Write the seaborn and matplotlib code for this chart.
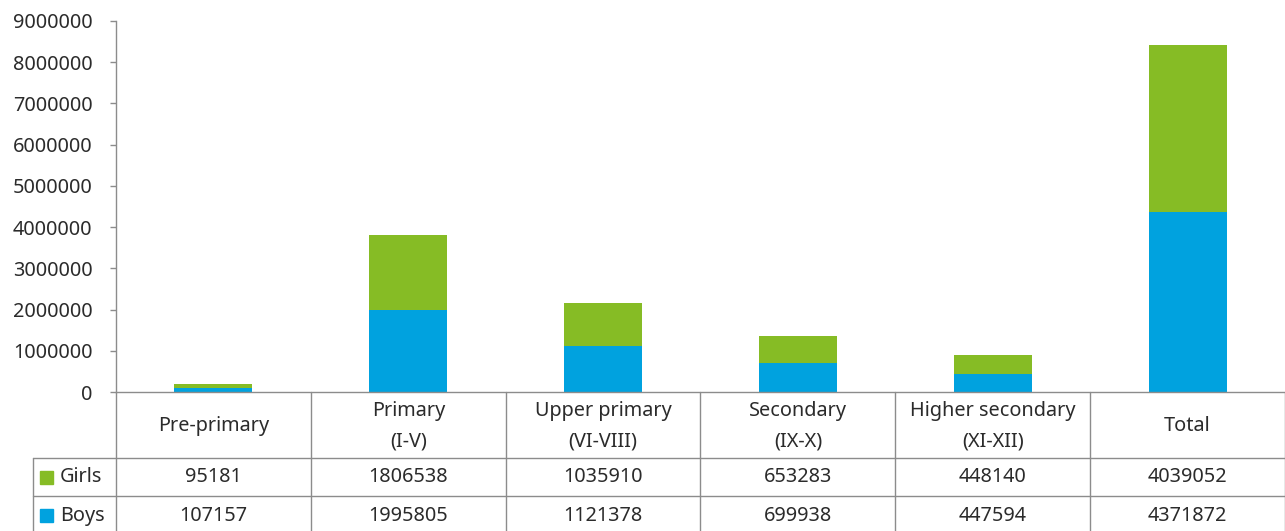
import pandas as pd
import matplotlib.pyplot as plt
import seaborn as sns

# Дані
categories = ["Pre-primary", "Primary\n(I-V)", "Upper primary\n(VI-VIII)",
              "Secondary\n(IX-X)", "Higher secondary\n(XI-XII)", "Total"]
girls = [95181, 1806538, 1035910, 653283, 448140, 4039052]
boys = [107157, 1995805, 1121378, 699938, 447594, 4371872]
yticks = [0, 1000000, 2000000, 3000000, 4000000, 5000000, 6000000, 7000000, 8000000, 9000000]

GREEN = "#86BC25"
BLUE = "#00A2DF"
GRID = "#8C8C8C"
TXT = "#2B2B2B"
FS = 14.3

df = pd.DataFrame({"cat": categories, "girls": girls, "boys": boys})
df["total"] = df["girls"] + df["boys"]

sns.set_style("white")
plt.rcParams["font.family"] = ["Noto Sans", "DejaVu Sans"]
plt.rcParams["font.weight"] = "light"

fig = plt.figure(figsize=(12.85, 5.31), dpi=100)
ax = fig.add_axes([116 / 1285, 139 / 531, 1169 / 1285, 371 / 531])

sns.barplot(data=df, x="cat", y="total", color=GREEN, width=0.4,
            saturation=1, linewidth=0, ax=ax)
sns.barplot(data=df, x="cat", y="boys", color=BLUE, width=0.4,
            saturation=1, linewidth=0, ax=ax)

ax.set_xlim(-0.5, len(categories) - 0.5)
ax.set_ylim(0, 9000000)
ax.set_yticks(yticks)
ax.set_yticklabels([str(v) for v in yticks], fontsize=FS, color=TXT)
ax.set_xticks([])
ax.set_xlabel("")
ax.set_ylabel("")
for s in ["top", "right"]:
    ax.spines[s].set_visible(False)
for s in ["left", "bottom"]:
    ax.spines[s].set_color(GRID)
    ax.spines[s].set_linewidth(1)
ax.tick_params(axis="y", left=True, length=4.5, width=1, color=GRID, pad=12.5)

# Таблиця під графіком (x — у координатах категорій, y — в осях)
tr = ax.get_xaxis_transform()
n = len(categories)
y_head = -66 / 371
y_girls = -104 / 371
y_bot = -139 / 371
x_lab = -0.5 - 83 / (1169 / n)

line_kw = dict(color=GRID, lw=1, transform=tr, clip_on=False)
for i in range(n + 1):
    ax.plot([i - 0.5, i - 0.5], [0, y_bot], **line_kw)
ax.plot([x_lab, x_lab], [y_head, y_bot], **line_kw)
ax.plot([x_lab, n - 0.5], [y_head, y_head], **line_kw)
ax.plot([x_lab, n - 0.5], [y_girls, y_girls], **line_kw)

for i, cat in enumerate(categories):
    ax.text(i, (0 + y_head) / 2 - 0.003, cat, transform=tr, ha="center", va="center",
            fontsize=FS, color=TXT, linespacing=1.68)
    ax.text(i, (y_head + y_girls) / 2, str(girls[i]), transform=tr,
            ha="center", va="center", fontsize=FS, color=TXT)
    ax.text(i, (y_girls + y_bot) / 2 - 0.006, str(boys[i]), transform=tr,
            ha="center", va="center", fontsize=FS, color=TXT)

# Легенда в рядках таблиці
sq_w = 13 / (1169 / n)
sq_h = 13 / 371
for (yc, name, col) in [((y_head + y_girls) / 2, "Girls", GREEN),
                        ((y_girls + y_bot) / 2 - 0.006, "Boys", BLUE)]:
    ax.add_patch(plt.Rectangle((x_lab + 7 / (1169 / n), yc - sq_h / 2), sq_w, sq_h,
                               transform=tr, color=col, clip_on=False))
    ax.text(x_lab + 27 / (1169 / n), yc, name, transform=tr, ha="left",
            va="center", fontsize=FS, color=TXT)

fig.savefig("out.png", dpi=100)
